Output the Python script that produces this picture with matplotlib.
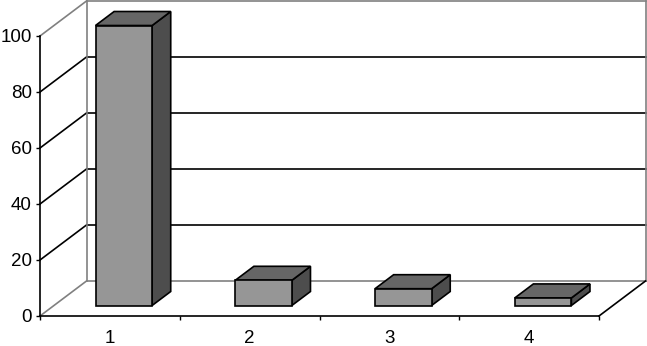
import matplotlib
matplotlib.use("Agg")
import matplotlib.pyplot as plt
from matplotlib.patches import Polygon

plt.rcParams['font.family'] = ['Liberation Sans', 'DejaVu Sans']

categories = ["1", "2", "3", "4"]
values = [100, 9, 6, 2.7]
y_ticks = [0, 20, 40, 60, 80, 100]

W, H = 647, 346
# depth of the fake 3d box, in data units
depth_x = 46.5 / 139.75
depth_y = 35 / 2.8
bar_width = 0.405
bar_front = 0.3
bar_back = 0.7
lw = 1.2


def proj(x, y, d):
    return (x + d * depth_x, y + d * depth_y)


fig = plt.figure(figsize=(W / 100, H / 100), dpi=100)
ax = fig.add_axes([40 / W, 1 - 316 / H, 559 / W, 280 / H])
ax.set_xlim(0, len(categories))
ax.set_ylim(0, 100)

# walls and grid
for v in y_ticks:
    color = "#808080" if v in (0, 100) else "black"
    ax.plot(*zip(proj(0, v, 0), proj(0, v, 1)), color=color, lw=lw, clip_on=False, zorder=1)
    ax.plot(*zip(proj(0, v, 1), proj(len(categories), v, 1)), color=color, lw=lw, clip_on=False, zorder=1)
ax.plot(*zip(proj(0, 0, 1), proj(0, 100, 1)), color="#808080", lw=lw, clip_on=False, zorder=1)
ax.plot(*zip(proj(4, 0, 1), proj(4, 100, 1)), color="#808080", lw=lw, clip_on=False, zorder=1)
ax.plot(*zip(proj(4, 0, 0), proj(4, 0, 1)), color="black", lw=lw, clip_on=False, zorder=1)

# bars
for i, v in enumerate(values):
    x0 = i + 0.5 - bar_width / 2
    x1 = i + 0.5 + bar_width / 2
    front = [proj(x0, 0, bar_front), proj(x1, 0, bar_front), proj(x1, v, bar_front), proj(x0, v, bar_front)]
    top = [proj(x0, v, bar_front), proj(x1, v, bar_front), proj(x1, v, bar_back), proj(x0, v, bar_back)]
    side = [proj(x1, 0, bar_front), proj(x1, 0, bar_back), proj(x1, v, bar_back), proj(x1, v, bar_front)]
    for pts, c in [(side, "#4d4d4d"), (top, "#666666"), (front, "#969696")]:
        ax.add_patch(Polygon(pts, closed=True, facecolor=c, edgecolor="black", lw=lw,
                             joinstyle="miter", clip_on=False, zorder=3))

ax.set_yticks(y_ticks)
ax.set_xticks(range(len(categories) + 1))
ax.set_xticklabels([])
ax.set_xticks([i + 0.5 for i in range(len(categories))], labels=categories, minor=True)
ax.tick_params(axis="x", which="major", length=3, width=1, color="black")
ax.tick_params(axis="x", which="minor", length=0, pad=10, labelsize=13.5)
ax.tick_params(axis="y", length=3, width=1, pad=3, labelsize=13.5)
for s in ("top", "right"):
    ax.spines[s].set_visible(False)
for s in ("left", "bottom"):
    ax.spines[s].set_linewidth(lw)
ax.patch.set_alpha(0)

fig.savefig("out.png", dpi=100)
